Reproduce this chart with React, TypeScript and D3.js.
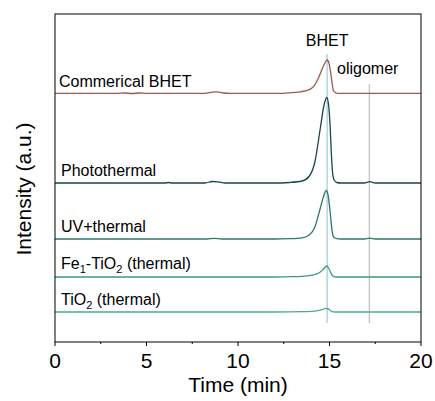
import React from "react";
import * as d3 from "d3";

// ---- data (time in min, intensity in a.u. above each trace's baseline) ----
const seriesNames = ["Commerical BHET", "Photothermal", "UV+thermal", "Fe1-TiO2 (thermal)", "TiO2 (thermal)"];
const seriesOffsets = [248.7, 159, 103, 65, 30];

const commercialBHET: [number, number][] = [
  [0, 0], [3.4, 0], [3.8, 0.3], [4.2, -0.2], [4.6, 0.3], [5.0, -0.1], [5.5, 0], [8.2, 0], [8.6, 1.2], [8.85, 1.5], [9.2, 0.3], [9.6, 0],
  [12, 0], [12.8, 0.5], [13.4, 1.5], [13.93, 4], [14.2, 8.5], [14.39, 15], [14.66, 27], [14.8, 32], [14.88, 33.3],
  [14.97, 30], [15.07, 20], [15.15, 9], [15.21, 3], [15.3, 1], [15.45, 0], [20, 0],
];
const photothermal: [number, number][] = [
  [0, 0], [6.0, 0], [6.2, 0.5], [6.4, 0], [8.2, 0], [8.6, 1.5], [8.9, 1.2], [9.3, 0], [12, 0], [12.8, 0.5], [13.5, 2],
  [13.9, 7], [14.2, 21], [14.5, 55], [14.7, 78], [14.85, 85.5], [14.95, 78], [15.03, 58], [15.1, 30], [15.17, 10],
  [15.25, 3], [15.4, 0.5], [15.6, 0], [16.9, 0], [17.2, 1.3], [17.5, 0], [20, 0],
];
const uvThermal: [number, number][] = [
  [0, 0], [8.3, 0], [8.7, 0.6], [9.1, 0], [12, 0], [12.8, 0.3], [13.5, 1.2], [13.9, 4], [14.2, 12], [14.5, 31], [14.7, 44],
  [14.82, 48.5], [14.92, 44], [15.0, 33], [15.1, 15], [15.17, 5], [15.25, 1.5], [15.4, 0.3], [15.6, 0],
  [16.9, 0], [17.2, 0.8], [17.5, 0], [20, 0],
];
const fe1TiO2: [number, number][] = [
  [0, 0], [12, 0], [13, 0.3], [13.8, 1.2], [14.2, 2.5], [14.5, 5], [14.7, 8.5], [14.85, 11], [14.95, 9], [15.05, 5],
  [15.15, 1.5], [15.3, 0.2], [15.5, 0], [20, 0],
];
const tiO2: [number, number][] = [
  [0, 0], [12, 0], [13.5, 0.3], [14.2, 0.9], [14.5, 1.8], [14.7, 3], [14.82, 3.7], [14.92, 3.2], [15.02, 1.8],
  [15.12, 0.6], [15.3, 0], [20, 0],
];
const seriesData = [commercialBHET, photothermal, uvThermal, fe1TiO2, tiO2];

const markerTimes = [14.87, 17.18];
const markerLabels = ["BHET", "oligomer"];
const majorTicks = [0, 5, 10, 15, 20];
const minorTicks = [2.5, 7.5, 12.5, 17.5];

// ---- styles ----
const colors = ["#9a5a4f", "#17474a", "#2a7a6b", "#3b9a7b", "#4aac88"];
const markerColors = ["#a9d3dc", "#c4c4c4"];
const FONT = "'Liberation Sans', Arial, Helvetica, sans-serif";

export default function App() {
  const W = 435, H = 401;
  const left = 55, right = 421, top = 14, bottom = 342;
  const x = d3.scaleLinear().domain([0, 20]).range([left, right]);
  const y = d3.scaleLinear().domain([0, 328]).range([bottom, top]);

  const line = (offset: number) =>
    d3.line<[number, number]>()
      .x((d) => x(d[0]))
      .y((d) => y(offset + d[1]))
      .curve(d3.curveMonotoneX);

  const markerExtents: [number, number][] = [[19, 288], [19, 258]];
  const labelY = [87, 176, 232, 268.5, 305];
  const fs = 16;
  const sub = 11;

  return (
    <svg width={W} height={H} style={{ position: "absolute", left: 0, top: 0 }} fontFamily={FONT}>
      <rect x={0} y={0} width={W} height={H} fill="#fff" />
      {markerTimes.map((t, i) => (
        <line key={"m" + i} x1={x(t)} x2={x(t)} y1={y(markerExtents[i][0])} y2={y(markerExtents[i][1])}
          stroke={markerColors[i]} strokeWidth={1.4} />
      ))}
      {seriesData.map((s, i) => (
        <path key={"s" + i} d={line(seriesOffsets[i])(s) || ""} fill="none" stroke={colors[i]} strokeWidth={1.3} />
      ))}
      {/* frame */}
      <rect x={left} y={top} width={right - left} height={bottom - top} fill="none" stroke="#000" strokeWidth={1} />
      {/* x ticks */}
      {majorTicks.map((t) => (
        <g key={"t" + t}>
          <line x1={x(t)} x2={x(t)} y1={bottom} y2={bottom + 4} stroke="#000" />
          <text x={x(t)} y={368} textAnchor="middle" fontSize={21}>{t}</text>
        </g>
      ))}
      {minorTicks.map((t) => (
        <line key={"mt" + t} x1={x(t)} x2={x(t)} y1={bottom} y2={bottom + 2} stroke="#000" />
      ))}
      <text x={(left + right) / 2} y={392} textAnchor="middle" fontSize={21}>Time (min)</text>
      <text transform={`translate(31,${(top + bottom) / 2 + 11}) rotate(-90)`} textAnchor="middle" fontSize={21}>Intensity (a.u.)</text>
      {/* trace labels */}
      <text x={59} y={labelY[0]} fontSize={fs}>{seriesNames[0]}</text>
      <text x={61} y={labelY[1]} fontSize={fs}>{seriesNames[1]}</text>
      <text x={61} y={labelY[2]} fontSize={fs}>{seriesNames[2]}</text>
      <text x={61} y={labelY[3]} fontSize={fs}>
        Fe<tspan fontSize={sub} dy={4}>1</tspan><tspan dy={-4}>-TiO</tspan><tspan fontSize={sub} dy={4}>2</tspan><tspan dy={-4}> (thermal)</tspan>
      </text>
      <text x={61} y={labelY[4]} fontSize={fs}>
        TiO<tspan fontSize={sub} dy={4}>2</tspan><tspan dy={-4}> (thermal)</tspan>
      </text>
      <text x={x(markerTimes[0])} y={46} textAnchor="middle" fontSize={fs}>{markerLabels[0]}</text>
      <text x={337} y={74} fontSize={fs}>{markerLabels[1]}</text>
    </svg>
  );
}
